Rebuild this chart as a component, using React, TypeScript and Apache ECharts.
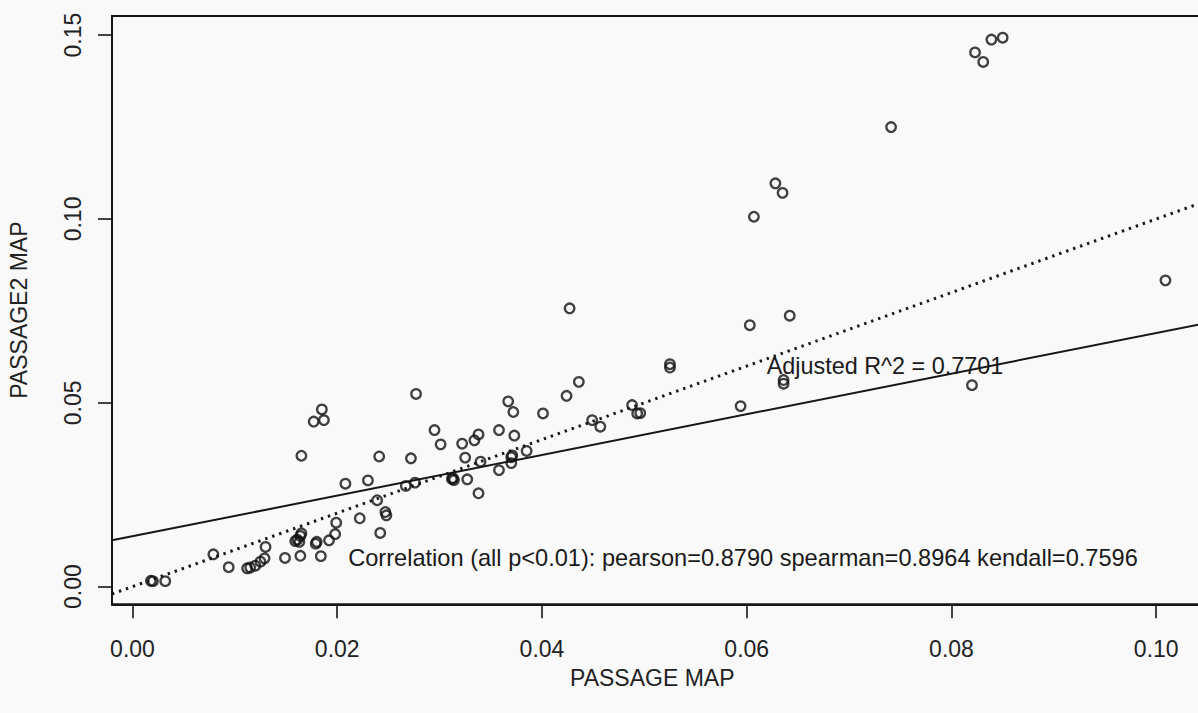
import React, { useEffect, useRef } from "react";
import * as echarts from "echarts";

// PASSAGE MAP (x) vs PASSAGE2 MAP (y)
const passageMap = [
  0.0018, 0.0020, 0.0032, 0.0079, 0.0094, 0.0112, 0.0115, 0.0120, 0.0125, 0.0129,
  0.0130, 0.0149, 0.0159, 0.0161, 0.0163, 0.0164, 0.0164, 0.0165, 0.0165, 0.0177,
  0.0179, 0.0180, 0.0184, 0.0185, 0.0187, 0.0192, 0.0198, 0.0199, 0.0208, 0.0222,
  0.0230, 0.0239, 0.0241, 0.0242, 0.0247, 0.0248, 0.0267, 0.0272, 0.0276, 0.0277,
  0.0295, 0.0301, 0.0312, 0.0314, 0.0313, 0.0322, 0.0325, 0.0327, 0.0334, 0.0338,
  0.0338, 0.0340, 0.0358, 0.0358, 0.0367, 0.0370, 0.0370, 0.0371, 0.0372, 0.0373,
  0.0385, 0.0401, 0.0424, 0.0427, 0.0436, 0.0449, 0.0457, 0.0488, 0.0493, 0.0496,
  0.0525, 0.0525, 0.0594, 0.0603, 0.0607, 0.0628, 0.0635, 0.0636, 0.0636, 0.0642,
  0.0741, 0.0820, 0.0823, 0.0831, 0.0839, 0.0850, 0.1009,
];
const passage2Map = [
  0.0016, 0.0015, 0.0015, 0.0088, 0.0053, 0.0050, 0.0052, 0.0057, 0.0068, 0.0077,
  0.0108, 0.0078, 0.0124, 0.0128, 0.0122, 0.0084, 0.0138, 0.0145, 0.0356, 0.0449,
  0.0117, 0.0122, 0.0083, 0.0482, 0.0453, 0.0126, 0.0143, 0.0174, 0.0280, 0.0186,
  0.0289, 0.0235, 0.0354, 0.0146, 0.0203, 0.0194, 0.0274, 0.0349, 0.0283, 0.0524,
  0.0426, 0.0387, 0.0293, 0.0290, 0.0295, 0.0389, 0.0351, 0.0292, 0.0398, 0.0414,
  0.0254, 0.0340, 0.0426, 0.0317, 0.0504, 0.0336, 0.0352, 0.0357, 0.0475, 0.0411,
  0.0369, 0.0471, 0.0519, 0.0757, 0.0557, 0.0453, 0.0435, 0.0494, 0.0471, 0.0472,
  0.0605, 0.0596, 0.0491, 0.0711, 0.1006, 0.1097, 0.1071, 0.0562, 0.0552, 0.0737,
  0.1250, 0.0548, 0.1453, 0.1427, 0.1488, 0.1493, 0.0833,
];

const xTicks = [0.0, 0.02, 0.04, 0.06, 0.08, 0.1];
const yTicks = [0.0, 0.05, 0.1, 0.15];

const X_MIN = -0.002;
const X_MAX = 0.1053;
const Y_MIN = -0.0048;
const Y_MAX = 0.1552;

// fitted line (solid) and identity line (dotted)
const FIT_INTERCEPT = 0.0137;
const FIT_SLOPE = 0.553;

const xLabel = "PASSAGE MAP";
const yLabel = "PASSAGE2 MAP";
const r2Text = "Adjusted R^2 = 0.7701";
const corrText =
  "Correlation (all p<0.01): pearson=0.8790 spearman=0.8964 kendall=0.7596";

const FONT = "'Liberation Sans', Arial, Helvetica, sans-serif";
const INK = "#161616";

export default function App() {
  const ref = useRef<HTMLDivElement>(null);

  useEffect(() => {
    if (!ref.current) return;
    const chart = echarts.init(ref.current, undefined, { renderer: "svg" });
    const points = passageMap.map((x, i) => [x, passage2Map[i]]);
    const fitLine = [X_MIN, X_MAX].map((x) => [x, FIT_INTERCEPT + FIT_SLOPE * x]);
    const idLine = [X_MIN, X_MAX].map((x) => [x, x]);

    chart.setOption({
      animation: false,
      backgroundColor: "transparent",
      textStyle: { fontFamily: FONT },
      grid: {
        left: 112,
        top: 16,
        right: 19.5,
        bottom: 108.7,
        show: true,
        borderColor: INK,
        borderWidth: 2,
        outerBoundsMode: "none",
      },
      xAxis: {
        type: "value",
        min: X_MIN,
        max: X_MAX,
        axisLine: { show: true, onZero: false, lineStyle: { color: INK, width: 2 } },
        splitLine: { show: false },
        axisTick: {
          show: true,
          inside: false,
          length: 14,
          customValues: xTicks,
          lineStyle: { color: INK, width: 1.6 },
        },
        axisLabel: {
          customValues: xTicks,
          formatter: (v: number) => v.toFixed(2),
          fontSize: 23,
          color: "#222",
          margin: 33,
          fontFamily: FONT,
        },
        name: xLabel,
        nameLocation: "middle",
        nameGap: 62,
        nameTextStyle: {
          fontSize: 23,
          color: "#222",
          fontFamily: FONT,
          padding: [0, 18, 0, 0],
        },
      },
      yAxis: {
        type: "value",
        min: Y_MIN,
        max: Y_MAX,
        axisLine: { show: true, onZero: false, lineStyle: { color: INK, width: 2 } },
        splitLine: { show: false },
        axisTick: {
          show: true,
          inside: false,
          length: 14,
          customValues: yTicks,
          lineStyle: { color: INK, width: 1.6 },
        },
        axisLabel: {
          customValues: yTicks,
          formatter: (v: number) => v.toFixed(2),
          fontSize: 23,
          color: "#222",
          rotate: 90,
          margin: 28,
          fontFamily: FONT,
        },
        name: yLabel,
        nameLocation: "middle",
        nameGap: 82,
        nameRotate: 90,
        nameTextStyle: { fontSize: 23, color: "#222", fontFamily: FONT },
      },
      series: [
        {
          type: "line",
          data: fitLine,
          symbol: "none",
          lineStyle: { color: INK, width: 2 },
          z: 2,
        },
        {
          type: "line",
          data: idLine,
          symbol: "none",
          lineStyle: { color: INK, width: 3, type: [2.4, 5], cap: "butt" },
          z: 2,
        },
        {
          type: "scatter",
          data: points,
          symbol: "circle",
          symbolSize: 9.5,
          itemStyle: { color: "rgba(0,0,0,0)", borderColor: "#111", borderWidth: 2.3 },
          z: 3,
        },
      ],
      graphic: [
        {
          type: "text",
          x: 885,
          y: 366,
          style: {
            text: r2Text,
            fontSize: 23.4,
            fontFamily: FONT,
            fill: "#1a1a1a",
            align: "center",
            verticalAlign: "middle",
          },
          z: 10,
        },
        {
          type: "text",
          x: 743,
          y: 558,
          style: {
            text: corrText,
            fontSize: 23.6,
            fontFamily: FONT,
            fill: "#1a1a1a",
            align: "center",
            verticalAlign: "middle",
          },
          z: 10,
        },
      ],
    });
    return () => chart.dispose();
  }, []);

  return (
    <div
      style={{
        position: "fixed",
        left: 0,
        top: 0,
        width: 1198,
        height: 713,
        overflow: "hidden",
        background: "#f9f9f9",
      }}
    >
      <div ref={ref} style={{ width: 1230, height: 713 }} />
    </div>
  );
}
